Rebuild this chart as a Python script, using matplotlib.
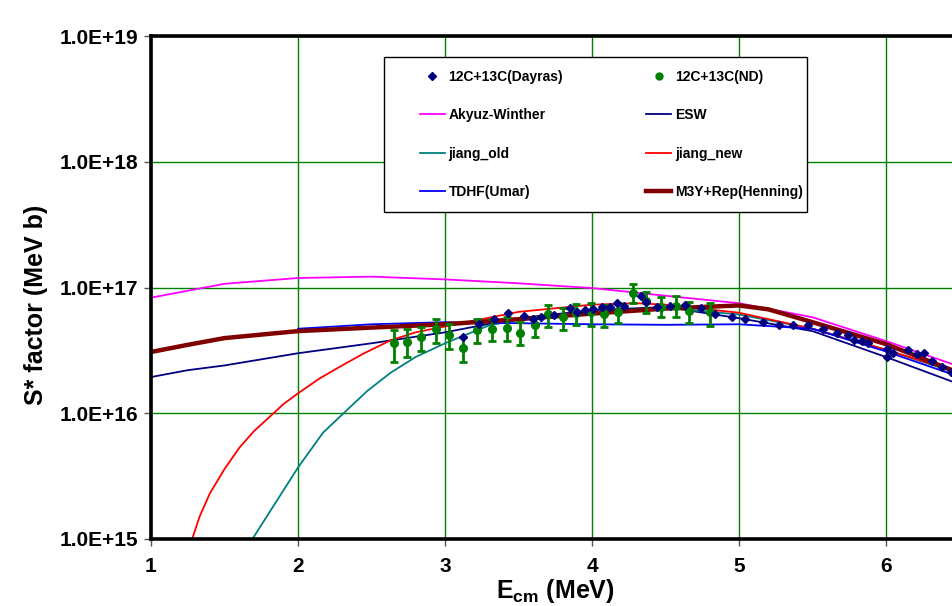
import matplotlib
matplotlib.use('Agg')
import matplotlib.pyplot as plt
from matplotlib.patches import Rectangle
from matplotlib.lines import Line2D
from matplotlib.ticker import FixedLocator, NullLocator, FuncFormatter

plt.rcParams['font.family'] = ['Liberation Sans', 'DejaVu Sans']
plt.rcParams['font.weight'] = 'bold'
plt.rcParams['mathtext.fontset'] = 'custom'
plt.rcParams['mathtext.rm'] = 'Liberation Sans:bold'
plt.rcParams['mathtext.bf'] = 'Liberation Sans:bold'

# --- data ---
dayras_e = [3.12, 3.23, 3.33, 3.43, 3.54, 3.60, 3.65, 3.74, 3.85, 3.90, 3.95, 4.01, 4.07,
            4.12, 4.17, 4.22, 4.33, 4.37, 4.44, 4.53, 4.63, 4.74, 4.84, 4.95, 5.04, 5.16,
            5.27, 5.37, 5.47, 5.57, 5.67, 5.74, 5.78, 5.84, 5.88, 6.01, 6.01, 6.05, 6.15,
            6.21, 6.26, 6.31, 6.38, 6.44]
dayras_s = [4.04e16, 5.1e16, 5.61e16, 6.27e16, 5.93e16, 5.61e16, 5.82e16, 6.04e16, 6.87e16,
            6.38e16, 6.62e16, 6.75e16, 7.0e16, 7.0e16, 7.53e16, 7.13e16, 8.56e16, 7.67e16,
            7.0e16, 7.13e16, 7.26e16, 6.87e16, 6.15e16, 5.82e16, 5.61e16, 5.32e16, 5.04e16,
            5.04e16, 5.04e16, 4.68e16, 4.35e16, 4.19e16, 3.83e16, 3.76e16, 3.62e16, 3.24e16,
            2.80e16, 3.01e16, 3.19e16, 2.96e16, 3.01e16, 2.61e16, 2.33e16, 2.13e16]

nd_e = [2.65, 2.74, 2.84, 2.94, 3.03, 3.12, 3.22, 3.32, 3.42, 3.51, 3.61, 3.70, 3.80, 3.89,
        3.99, 4.08, 4.18, 4.28, 4.37, 4.47, 4.57, 4.66, 4.80]
nd_s = [3.62e16, 3.69e16, 4.04e16, 4.68e16, 4.19e16, 3.30e16, 4.59e16, 4.68e16, 4.77e16,
        4.35e16, 5.04e16, 6.15e16, 5.82e16, 6.27e16, 6.38e16, 6.15e16, 6.38e16, 9.04e16,
        7.81e16, 7.0e16, 7.13e16, 6.50e16, 6.38e16]
nd_hi = [4.59e16, 4.68e16, 4.85e16, 5.61e16, 5.13e16, 4.04e16, 5.61e16, 5.61e16, 5.82e16,
         5.32e16, 5.82e16, 7.26e16, 6.87e16, 7.40e16, 7.53e16, 7.26e16, 7.53e16, 1.07e17,
         9.21e16, 8.40e16, 8.56e16, 7.67e16, 7.53e16]
nd_lo = [2.56e16, 2.80e16, 3.12e16, 3.62e16, 3.24e16, 2.56e16, 3.62e16, 3.76e16, 3.76e16,
         3.49e16, 4.04e16, 4.85e16, 4.59e16, 5.04e16, 4.94e16, 4.85e16, 5.22e16, 7.53e16,
         6.27e16, 5.82e16, 5.82e16, 5.22e16, 4.94e16]

aw_e = [1.0, 1.5, 2.0, 2.5, 3.0, 3.5, 4.0, 4.5, 5.0, 5.5, 6.0, 6.5]
aw_s = [8.3e16, 1.07e17, 1.19e17, 1.22e17, 1.16e17, 1.08e17, 9.9e16, 8.6e16, 7.5e16,
        5.8e16, 3.75e16, 2.35e16]

esw_e = [1.0, 1.25, 1.5, 2.0, 2.5, 3.0, 3.5, 4.0, 4.5, 5.0, 5.5, 6.0, 6.5]
esw_s = [1.94e16, 2.2e16, 2.4e16, 3.0e16, 3.6e16, 4.4e16, 5.7e16, 6.6e16, 7.0e16, 5.7e16,
         4.5e16, 2.8e16, 1.7e16]

jold_e = [1.69, 1.86, 2.0, 2.17, 2.31, 2.47, 2.63, 2.8, 3.0, 3.3, 3.6, 4.0, 4.5, 5.0, 5.5,
          6.0, 6.5]
jold_s = [1.0e15, 2.05e15, 3.7e15, 7.0e15, 1.0e16, 1.5e16, 2.1e16, 2.8e16, 3.6e16, 5.0e16,
          5.8e16, 6.4e16, 6.9e16, 6.1e16, 4.7e16, 3.2e16, 2.05e16]

jnew_e = [1.28, 1.33, 1.4, 1.5, 1.6, 1.7, 1.8, 1.9, 2.0, 2.15, 2.3, 2.45, 2.63, 2.8, 3.0,
          3.5, 4.0, 4.3, 4.5, 5.0, 5.5, 6.0, 6.5]
jnew_s = [1.0e15, 1.5e15, 2.3e15, 3.6e15, 5.3e15, 7.2e15, 9.2e15, 1.18e16, 1.44e16,
          1.9e16, 2.4e16, 3.0e16, 3.8e16, 4.4e16, 4.9e16, 6.4e16, 7.3e16, 7.5e16, 7.3e16,
          6.3e16, 4.7e16, 3.2e16, 2.1e16]

tdhf_e = [2.0, 2.5, 3.0, 3.5, 4.0, 4.5, 5.0, 5.5, 6.0, 6.5]
tdhf_s = [4.7e16, 5.1e16, 5.3e16, 5.2e16, 5.1e16, 5.05e16, 5.1e16, 4.7e16, 3.1e16, 1.95e16]

m3y_e = [1.0, 1.25, 1.5, 2.0, 2.5, 3.0, 3.5, 4.0, 4.5, 5.0, 5.2, 5.5, 6.0, 6.45]
m3y_s = [3.07e16, 3.5e16, 3.96e16, 4.5e16, 4.8e16, 5.1e16, 5.6e16, 6.2e16, 6.8e16, 7.2e16,
         6.7e16, 5.3e16, 3.55e16, 2.2e16]

fig = plt.figure(figsize=(9.52, 6.06), dpi=100)
ax = fig.add_axes([151 / 952, 67 / 606, 882 / 952, 503 / 606])

ax.plot(aw_e, aw_s, color='#ff00ff', lw=1.3, label='Akyuz-Winther', zorder=2)
ax.plot(esw_e, esw_s, color='#000080', lw=1.3, label='ESW', zorder=2)
ax.plot(jold_e, jold_s, color='#008080', lw=1.3, label='jiang_old', zorder=2)
ax.plot(jnew_e, jnew_s, color='#ff0000', lw=1.3, label='jiang_new', zorder=2)
ax.plot(tdhf_e, tdhf_s, color='#0000ff', lw=1.3, label='TDHF(Umar)', zorder=2)
ax.plot(m3y_e, m3y_s, color='#800000', lw=3.2, label='M3Y+Rep(Henning)', zorder=2)

ax.plot(dayras_e, dayras_s, ls='none', marker='D', ms=4.5, color='#000080',
        label='12C+13C(Dayras)', zorder=4)
yerr = [[s - lo for s, lo in zip(nd_s, nd_lo)], [hi - s for s, hi in zip(nd_s, nd_hi)]]
ax.errorbar(nd_e, nd_s, yerr=yerr, ls='none', marker='o', ms=5.5, color='#008000',
            ecolor='#008000', elinewidth=2, capsize=3, capthick=2, zorder=3)

ax.set_yscale('log')
ax.set_xlim(1, 7)
ax.set_ylim(1e15, 1e19)
ax.xaxis.set_major_locator(FixedLocator([1, 2, 3, 4, 5, 6]))
ax.yaxis.set_major_locator(FixedLocator([1e15, 1e16, 1e17, 1e18, 1e19]))
ax.yaxis.set_minor_locator(NullLocator())
ax.yaxis.set_major_formatter(FuncFormatter(lambda v, p: f'{v:.1E}'))
ax.grid(True, color='#008000', lw=1)
ax.axvline(7, color='#008000', lw=1)
ax.set_axisbelow(True)

for side in ['left', 'bottom', 'top']:
    ax.spines[side].set_linewidth(2.6)
ax.spines['right'].set_visible(False)
ax.tick_params(direction='out', length=5, width=1, color='#555555', labelsize=15, pad=4)
ax.tick_params(axis='x', pad=8)
for lab in ax.get_xticklabels() + ax.get_yticklabels():
    lab.set_fontweight('bold')

ax.set_ylabel('S* factor (MeV b)', fontsize=18, fontweight='bold')
ax.yaxis.set_label_coords(-0.117, 0.465)
ax.set_xlabel(r'$\mathbf{E}_{\mathbf{cm}}$ (MeV)', fontsize=18, fontweight='bold')
ax.xaxis.set_label_coords(0.458, -0.076)

# legend box
box = Rectangle((384 / 952, 394 / 606), 423 / 952, 155 / 606, transform=fig.transFigure,
                facecolor='white', edgecolor='black', lw=1, zorder=6, clip_on=False)
ax.add_artist(box)

h, l = ax.get_legend_handles_labels()
hd = dict(zip(l, h))
hd['12C+13C(ND)'] = Line2D([], [], ls='none', marker='o', ms=5, color='#008000')
order = ['12C+13C(Dayras)', 'Akyuz-Winther', 'jiang_old', 'TDHF(Umar)',
         '12C+13C(ND)', 'ESW', 'jiang_new', 'M3Y+Rep(Henning)']
leg = ax.legend([hd[k] for k in order], order, ncol=2, frameon=False,
                loc='upper left', bbox_to_anchor=(413 / 952, 543 / 606),
                bbox_transform=fig.transFigure, borderpad=0, fontsize=10,
                labelspacing=1.75, handlelength=1.8, handletextpad=0.25,
                columnspacing=6.0, numpoints=1)
leg.set_zorder(7)
for t in leg.get_texts():
    t.set_fontweight('bold')

fig.savefig('out.png', dpi=100)
